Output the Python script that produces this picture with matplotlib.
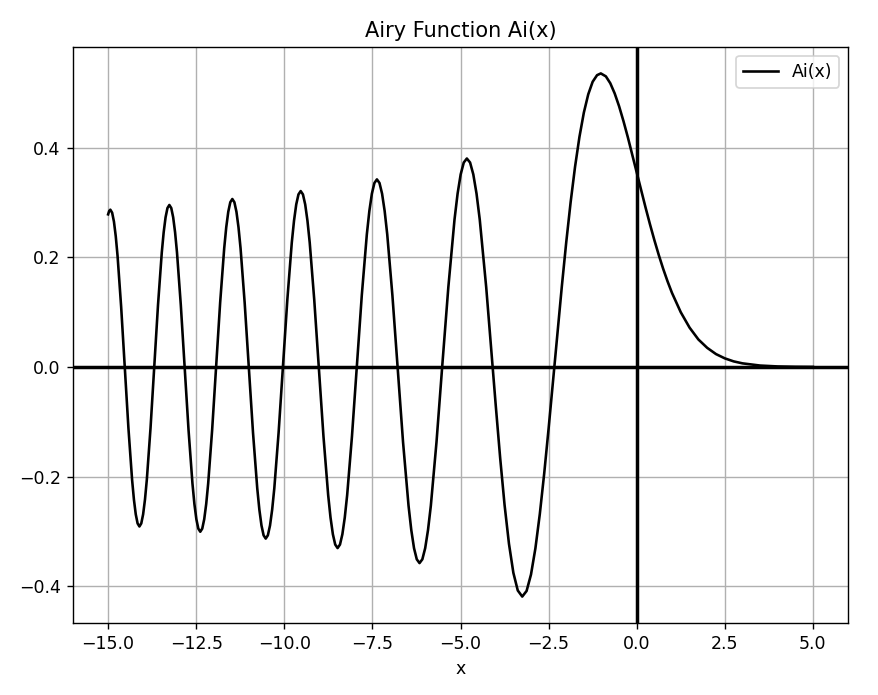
import numpy as np
import matplotlib
matplotlib.use('Agg')
import matplotlib.pyplot as plt

# values (zeros, extrema and points in between)
x_vals = [
    -15.0, -14.97, -14.93677,
    -14.8856, -14.8345, -14.7834, -14.7323, -14.6301, -14.52783,
    -14.4238, -14.3197, -14.2676, -14.2156, -14.1635, -14.11150,
    -14.0590, -14.0065, -13.9540, -13.9015, -13.7965, -13.69149,
    -13.5842, -13.4769, -13.4232, -13.3695, -13.3159, -13.26222,
    -13.2080, -13.1539, -13.0997, -13.0455, -12.9372, -12.82878,
    -12.7178, -12.6068, -12.5513, -12.4958, -12.4403, -12.38479,
    -12.3287, -12.2726, -12.2165, -12.1604, -12.0482, -11.93602,
    -11.8208, -11.7055, -11.6479, -11.5903, -11.5327, -11.47506,
    -11.4167, -11.3584, -11.3001, -11.2418, -11.1252, -11.00852,
    -10.8883, -10.7681, -10.7080, -10.6479, -10.5878, -10.52766,
    -10.4667, -10.4058, -10.3449, -10.2839, -10.1620, -10.04017,
    -9.9140, -9.7878, -9.7247, -9.6616, -9.5985, -9.53545,
    -9.4714, -9.4073, -9.3432, -9.2791, -9.1509, -9.02265,
    -8.8891, -8.7556, -8.6888, -8.6220, -8.5553, -8.48849,
    -8.4204, -8.3524, -8.2844, -8.2163, -8.0802, -7.94413,
    -7.8011, -7.6582, -7.5867, -7.5152, -7.4437, -7.37218,
    -7.2990, -7.2258, -7.1526, -7.0794, -6.9331, -6.78671,
    -6.6309, -6.4750, -6.3971, -6.3192, -6.2412, -6.16331,
    -6.0830, -6.0026, -5.9223, -5.8419, -5.6812, -5.52056,
    -5.3454, -5.1703, -5.0828, -4.9952, -4.9077, -4.82010,
    -4.7286, -4.6371, -4.5455, -4.4541, -4.2710, -4.08795,
    -4.0, -3.875, -3.75, -3.625, -3.5, -3.375, -3.2482,
    -3.125, -3.0, -2.875, -2.75, -2.625, -2.5, -2.33811,
    -2.25, -2.125, -2.0, -1.875, -1.75, -1.625, -1.5, -1.375, -1.25, -1.125, -1.01879,
    -0.875, -0.75, -0.625, -0.5, -0.375, -0.25, -0.125,
    0.0, 0.125, 0.25, 0.375, 0.5, 0.625, 0.75, 0.875, 1.0,
    1.25, 1.5, 1.75, 2.0, 2.25, 2.5, 2.75, 3.0, 3.5, 4.0, 4.5, 5.0,
]
ai_vals = [
    0.2785, 0.2846, 0.2870,
    0.2815, 0.2652, 0.2386, 0.2029, 0.1098, 0.0,
    -0.1114, -0.2058, -0.2420, -0.2689, -0.2855, -0.2911,
    -0.2855, -0.2689, -0.2420, -0.2058, -0.1114, 0.0,
    0.1131, 0.2090, 0.2458, 0.2731, 0.2900, 0.2956,
    0.2900, 0.2731, 0.2458, 0.2090, 0.1131, 0.0,
    -0.1151, -0.2126, -0.2501, -0.2778, -0.2950, -0.3007,
    -0.2950, -0.2778, -0.2501, -0.2126, -0.1151, 0.0,
    0.1173, 0.2167, 0.2549, 0.2832, 0.3006, 0.3065,
    0.3006, 0.2832, 0.2549, 0.2167, 0.1173, 0.0,
    -0.1199, -0.2214, -0.2604, -0.2893, -0.3072, -0.3132,
    -0.3072, -0.2893, -0.2604, -0.2214, -0.1199, 0.0,
    0.1229, 0.2270, 0.2669, 0.2966, 0.3149, 0.3210,
    0.3149, 0.2966, 0.2669, 0.2270, 0.1229, 0.0,
    -0.1265, -0.2337, -0.2748, -0.3053, -0.3241, -0.3305,
    -0.3241, -0.3053, -0.2748, -0.2337, -0.1265, 0.0,
    0.1310, 0.2420, 0.2846, 0.3162, 0.3357, 0.3423,
    0.3357, 0.3162, 0.2846, 0.2420, 0.1310, 0.0,
    -0.1370, -0.2531, -0.2976, -0.3307, -0.3510, -0.3579,
    -0.3510, -0.3307, -0.2976, -0.2531, -0.1370, 0.0,
    0.1456, 0.2690, 0.3163, 0.3515, 0.3731, 0.3804,
    0.3731, 0.3515, 0.3163, 0.2690, 0.1456, 0.0,
    -0.0703, -0.1659, -0.2517, -0.3227, -0.3757, -0.4079, -0.4190,
    -0.4088, -0.3788, -0.3311, -0.2685, -0.1944, -0.1124, 0.0,
    0.0615, 0.1469, 0.2274, 0.3008, 0.3652, 0.4199, 0.4642, 0.4976, 0.5205, 0.5325, 0.5357,
    0.5303, 0.5178, 0.4992, 0.4758, 0.4485, 0.4188, 0.3873,
    0.3550, 0.3228, 0.2912, 0.2607, 0.2317, 0.2045, 0.1793, 0.1563, 0.1353,
    0.0999, 0.0718, 0.0502, 0.0349, 0.0235, 0.0157, 0.0102, 0.0066, 0.0026, 0.00095, 0.00033, 0.00011,
]

plt.figure(figsize=(878 / 125, 695 / 125), dpi=125)
plt.plot(x_vals, ai_vals, color='black', label='Ai(x)')
plt.axhline(0, color='black', linewidth=2)
plt.axvline(0, color='black', linewidth=2)
plt.grid(True)
plt.xlabel('x')
plt.title('Airy Function Ai(x)')
plt.legend(loc='upper right')
plt.subplots_adjust(left=0.083, right=0.966, top=0.932, bottom=0.104)
plt.savefig('out.png', dpi=125)
